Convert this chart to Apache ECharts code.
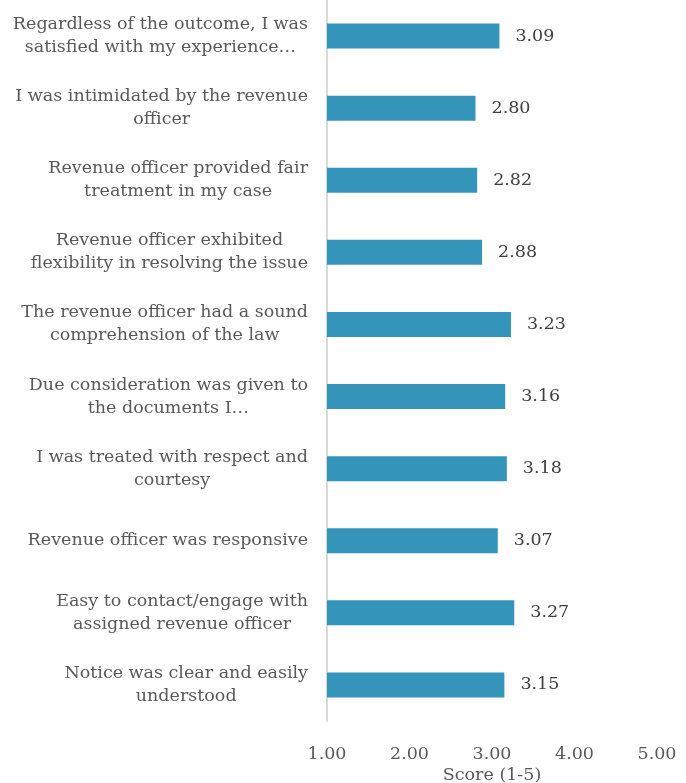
<!DOCTYPE html>
<html>
<head>
<meta charset="utf-8">
<script src="https://cdn.jsdelivr.net/npm/echarts@6/dist/echarts.min.js"></script>
<style>
  html, body { margin: 0; padding: 0; background: #ffffff; }
  #chart { width: 686px; height: 783px; }
</style>
</head>
<body>
<div id="chart"></div>
<script>
// Survey statements, listed top to bottom (wrapped as shown on the axis)
const statements = [
  ['Regardless of the outcome, I was', 'satisfied with my experience\u2026'],
  ['I was intimidated by the revenue', 'officer'],
  ['Revenue officer provided fair', 'treatment in my case'],
  ['Revenue officer exhibited', 'flexibility in resolving the issue'],
  ['The revenue officer had a sound', 'comprehension of the law'],
  ['Due consideration was given to', 'the documents I\u2026'],
  ['I was treated with respect and', 'courtesy'],
  ['Revenue officer was responsive'],
  ['Easy to contact/engage with', 'assigned revenue officer'],
  ['Notice was clear and easily', 'understood']
];

// Mean score for each statement (1-5 scale)
const scores = [3.09, 2.80, 2.82, 2.88, 3.23, 3.16, 3.18, 3.07, 3.27, 3.15];

// Value axis ticks
const axisMin = 1;
const axisMax = 5;
const axisStep = 1;

const FONT = '"DejaVu Serif", "Liberation Serif", serif';
const SIZE = 17.5;

const categories = statements.map(lines => lines.join('\n'));

const chart = echarts.init(document.getElementById('chart'));
chart.setOption({
  animation: false,
  backgroundColor: '#ffffff',
  grid: { left: 327, right: 29, top: 0, bottom: 62, containLabel: false, outerBoundsMode: 'none' },
  xAxis: {
    type: 'value',
    min: axisMin,
    max: axisMax,
    interval: axisStep,
    name: 'Score (1-5)',
    nameLocation: 'middle',
    nameGap: 45,
    nameMoveOverlap: false,
    nameTextStyle: { fontFamily: FONT, fontSize: SIZE, color: '#595959' },
    axisLine: { show: false },
    axisTick: { show: false },
    splitLine: { show: false },
    axisLabel: {
      margin: 24,
      fontFamily: FONT,
      fontSize: SIZE,
      color: '#595959',
      formatter: v => v.toFixed(2)
    }
  },
  yAxis: {
    type: 'category',
    inverse: true,
    data: categories,
    axisLine: { show: true, lineStyle: { color: '#d9d9d9', width: 2 } },
    axisTick: { show: false },
    axisLabel: {
      margin: 19,
      align: 'right',
      fontFamily: FONT,
      fontSize: SIZE,
      lineHeight: 23,
      color: '#595959',
      formatter: value => value.split('\n').map(l => '{c|' + l + '}').join('\n'),
      rich: {
        c: { align: 'center', fontFamily: FONT, fontSize: SIZE, lineHeight: 23, color: '#595959' }
      }
    }
  },
  series: [{
    type: 'bar',
    data: scores,
    barWidth: 25,
    itemStyle: { color: '#3494ba' },
    label: {
      show: true,
      position: 'right',
      distance: 16,
      fontFamily: FONT,
      fontSize: SIZE,
      color: '#404040',
      formatter: p => p.value.toFixed(2)
    }
  }]
});
</script>
</body>
</html>
